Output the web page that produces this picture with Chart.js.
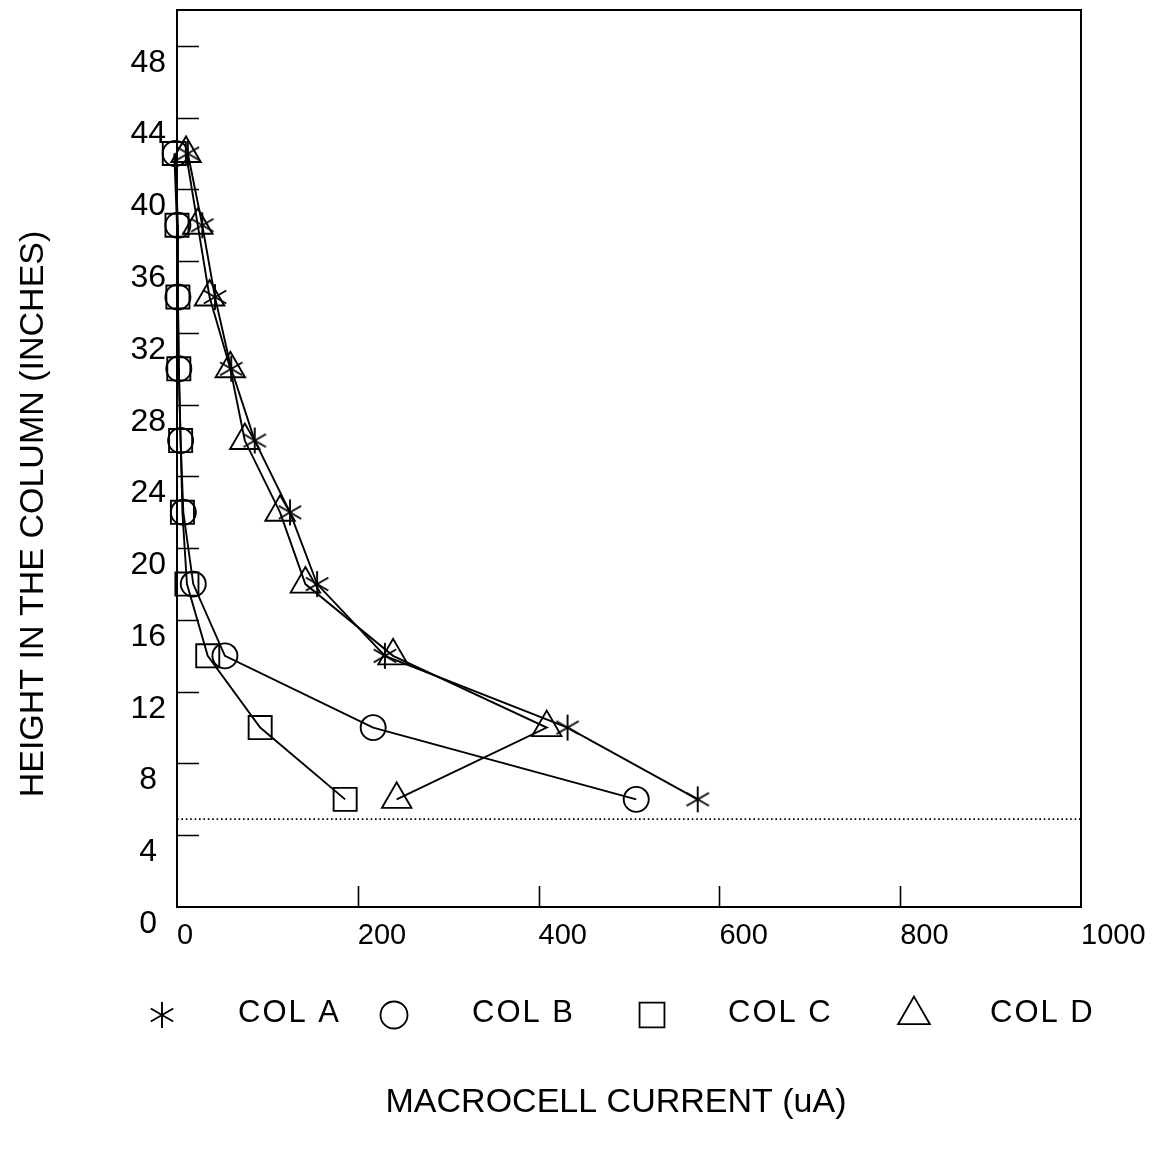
<!DOCTYPE html>
<html>
<head>
<meta charset="utf-8">
<title>Macrocell current by height</title>
<script src="https://cdn.jsdelivr.net/npm/chart.js@4.4.1/dist/chart.umd.min.js"></script>
<style>
  html, body { margin: 0; padding: 0; background: #fff; }
  #wrap { width: 1172px; height: 1153px; }
</style>
</head>
<body>
<div id="wrap"><canvas id="chart" width="1172" height="1153"></canvas></div>
<script>
// Heights (inches) at which the macrocell current was measured
const heights = [42, 38, 34, 30, 26, 22, 18, 14, 10, 6];

// Macrocell current (uA) per column, one entry per height above
const colA = [12, 28, 42, 60, 86, 125, 155, 230, 432, 576];
const colB = [-2, 1, 1, 2, 4, 7, 18, 53, 217, 508];
const colC = [-3, 0, 1, 2, 4, 6, 11, 34, 92, 186];
const colD = [10, 23, 36, 59, 75, 114, 142, 239, 409, 243];

const seriesNames = ['COL A', 'COL B', 'COL C', 'COL D'];

// Dotted reference level across the column (inches)
const baseLevel = 4.9;

// Axis ranges and tick steps
const xRange = [0, 1000];
const yRange = [0, 50];
const xMinorStep = 100, xLabelStep = 200;
const yMinorStep = 2, yLabelStep = 4;

const FONT = '"Liberation Sans", Arial, Helvetica, sans-serif';

// Six-armed asterisk marker
function asteriskMarker(size, lw) {
  const c = document.createElement('canvas');
  c.width = size; c.height = size;
  const g = c.getContext('2d');
  const r = size / 2 - 1;
  g.strokeStyle = '#000';
  g.lineWidth = lw;
  g.beginPath();
  for (let k = 0; k < 3; k++) {
    const a = Math.PI / 2 + k * Math.PI / 3;
    g.moveTo(size / 2 + Math.cos(a) * r, size / 2 + Math.sin(a) * r);
    g.lineTo(size / 2 - Math.cos(a) * r, size / 2 - Math.sin(a) * r);
  }
  g.stroke();
  return c;
}
const starImg = asteriskMarker(28, 1.9);

const toPoints = vals => heights.map((h, i) => ({ x: vals[i], y: h }));

const markerStyles = [
  { pointStyle: starImg, radius: 13 },
  { pointStyle: 'circle', radius: 12.5 },
  { pointStyle: 'rect', radius: 16.3 },
  { pointStyle: 'triangle', radius: 17 }
];

const seriesData = [colA, colB, colC, colD];

const datasets = seriesData.map((vals, i) => ({
  label: seriesNames[i],
  data: toPoints(vals),
  showLine: true,
  borderColor: '#000',
  borderWidth: 1.9,
  tension: 0,
  pointStyle: markerStyles[i].pointStyle,
  pointRadius: markerStyles[i].radius,
  pointHoverRadius: markerStyles[i].radius,
  pointBorderColor: '#000',
  pointBorderWidth: 1.9,
  pointBackgroundColor: 'rgba(0,0,0,0)',
  clip: false
}));

datasets.push({
  label: 'base',
  data: [{ x: xRange[0], y: baseLevel }, { x: xRange[1], y: baseLevel }],
  showLine: true,
  borderColor: '#000',
  borderWidth: 1.6,
  borderDash: [1.6, 2.8],
  pointRadius: 0,
  pointHoverRadius: 0
});

// Frame, inward tick marks, axis titles and the legend row
const decorations = {
  id: 'decorations',
  afterDraw(chart) {
    const { ctx, chartArea: a } = chart;
    const xs = chart.scales.x, ys = chart.scales.y;
    ctx.save();
    ctx.strokeStyle = '#000';
    ctx.lineWidth = 2;
    ctx.strokeRect(a.left, a.top, a.right - a.left, a.bottom - a.top);

    ctx.lineWidth = 1.6;
    ctx.beginPath();
    ys.ticks.forEach(t => {
      if (t.value <= yRange[0] || t.value >= yRange[1]) return;
      const y = Math.round(ys.getPixelForValue(t.value)) + 0.5;
      const len = t.value % yLabelStep === 0 ? 22 : 11;
      ctx.moveTo(a.left, y);
      ctx.lineTo(a.left + len, y);
    });
    xs.ticks.forEach(t => {
      if (t.value <= xRange[0] || t.value >= xRange[1]) return;
      const x = Math.round(xs.getPixelForValue(t.value)) + 0.5;
      const len = t.value % xLabelStep === 0 ? 21 : 11;
      ctx.moveTo(x, a.bottom);
      ctx.lineTo(x, a.bottom - len);
    });
    ctx.stroke();

    // Axis titles
    ctx.fillStyle = '#000';
    ctx.font = '34px ' + FONT;
    ctx.textAlign = 'center';
    ctx.textBaseline = 'middle';
    ctx.fillText('MACROCELL CURRENT (uA)', 616, 1103);
    ctx.save();
    ctx.translate(34, 514);
    ctx.rotate(-Math.PI / 2);
    ctx.fillText('HEIGHT IN THE COLUMN (INCHES)', 0, 0);
    ctx.restore();

    // Legend row
    const markerX = [162, 394, 652, 914];
    const textX = [238, 472, 728, 990];
    const rowY = 1015;
    ctx.lineWidth = 1.8;
    ctx.fillStyle = 'rgba(0,0,0,0)';
    seriesNames.forEach((name, i) => {
      const st = markerStyles[i];
      Chart.helpers.drawPoint(ctx, {
        pointStyle: st.pointStyle, radius: st.radius * 1.08, rotation: 0, borderWidth: 1.8
      }, markerX[i], rowY);
    });
    ctx.fillStyle = '#000';
    ctx.font = '31px ' + FONT;
    ctx.textAlign = 'left';
    if ('letterSpacing' in ctx) ctx.letterSpacing = '2px';
    seriesNames.forEach((name, i) => ctx.fillText(name, textX[i], rowY - 2));
    ctx.restore();
  }
};

new Chart(document.getElementById('chart'), {
  type: 'scatter',
  data: { datasets },
  plugins: [decorations],
  options: {
    responsive: false,
    animation: false,
    events: [],
    layout: { autoPadding: false, padding: { left: 0, top: 10, right: 91, bottom: 0 } },
    plugins: { legend: { display: false }, tooltip: { enabled: false } },
    scales: {
      x: {
        type: 'linear',
        min: xRange[0], max: xRange[1],
        grid: { display: false, drawTicks: false },
        border: { display: false },
        ticks: {
          stepSize: xMinorStep,
          autoSkip: false,
          maxRotation: 0,
          align: 'start',
          padding: 12,
          color: '#000',
          font: { family: FONT, size: 29 },
          callback: v => (v % xLabelStep === 0 ? String(v) : null)
        },
        afterFit: s => { s.height = 246; }
      },
      y: {
        type: 'linear',
        min: yRange[0], max: yRange[1],
        grid: { display: false, drawTicks: false },
        border: { display: false },
        ticks: {
          stepSize: yMinorStep,
          autoSkip: false,
          crossAlign: 'center',
          labelOffset: 17,
          padding: 11,
          color: '#000',
          font: { family: FONT, size: 32 },
          callback: v => (v % yLabelStep === 0 && v < yRange[1] ? String(v) : null)
        },
        afterFit: s => { s.width = 177; s.paddingTop = 0; s.paddingBottom = 0; }
      }
    }
  }
});
</script>
</body>
</html>
